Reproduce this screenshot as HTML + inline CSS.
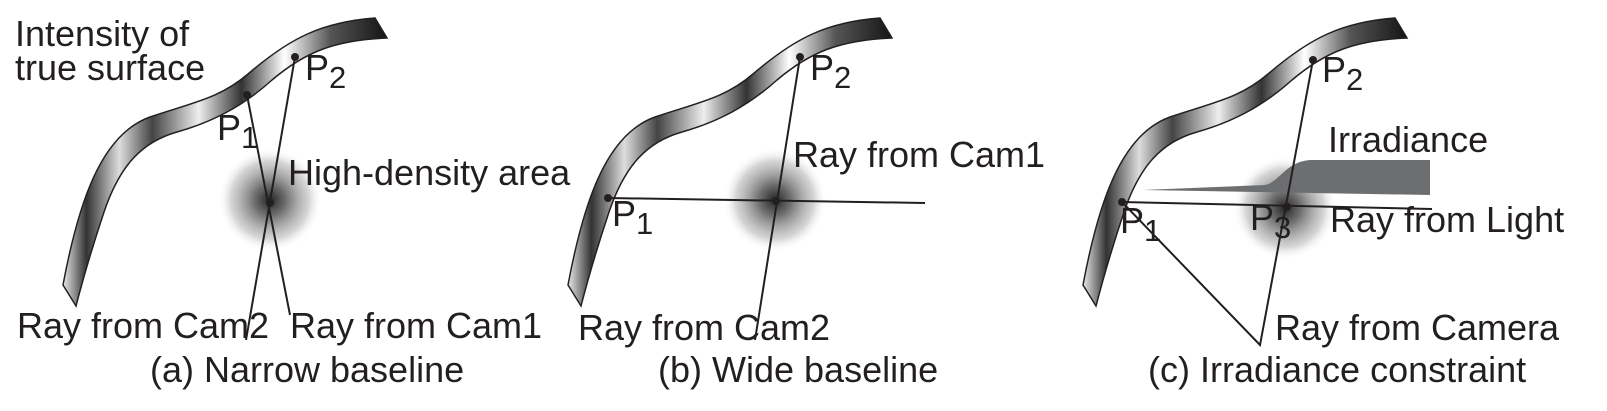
<!DOCTYPE html>
<html><head><meta charset="utf-8"><style>
html,body{margin:0;padding:0;background:#fff}
svg{display:block}
text{font-family:"Liberation Sans",Arial,sans-serif;fill:#231f20}
</style></head><body>
<svg width="1607" height="411" viewBox="0 0 1607 411" xmlns="http://www.w3.org/2000/svg">
<defs>
<linearGradient id="g" x1="60" y1="0" x2="390" y2="0" gradientUnits="userSpaceOnUse">
<stop offset="0" stop-color="#fff"/>
<stop offset="0.08" stop-color="#333"/>
<stop offset="0.18" stop-color="#ddd"/>
<stop offset="0.28" stop-color="#444"/>
<stop offset="0.42" stop-color="#eee"/>
<stop offset="0.55" stop-color="#333"/>
<stop offset="0.68" stop-color="#fff"/>
<stop offset="0.82" stop-color="#555"/>
<stop offset="1" stop-color="#111"/>
</linearGradient>
<radialGradient id="b"><stop offset="0" stop-color="#222"/><stop offset="0.3" stop-color="#555" stop-opacity=".85"/><stop offset="0.75" stop-color="#aaa" stop-opacity=".5"/><stop offset="1" stop-color="#fff" stop-opacity="0"/></radialGradient>
<path id="s" d="M63,285 C78,205 100,135 150,117 C195,102 220,98 248,74 C290,38 322,22 375,18 L387,38 C335,40 305,52 272,80 C242,107 212,122 177,132 C142,142 120,165 104,212 C94,242 84,275 76,306 Z" fill="url(#g)" stroke="#231f20" stroke-width="1.5"/>
</defs>
<g font-size="36">
<!-- (a) -->
<use href="#s"/>
<circle cx="270" cy="200" r="52" fill="url(#b)"/>
<line x1="247" y1="95" x2="290" y2="315" stroke="#231f20" stroke-width="2"/>
<line x1="295" y1="57" x2="246" y2="340" stroke="#231f20" stroke-width="2"/>
<circle cx="247" cy="95" r="4" fill="#231f20"/><circle cx="295" cy="57" r="4" fill="#231f20"/><circle cx="270" cy="203" r="4" fill="#231f20"/>
<text x="15" y="46">Intensity of</text>
<text x="15" y="80">true surface</text>
<text x="305" y="80">P<tspan font-size="31" dy="8">2</tspan></text>
<text x="217" y="140">P<tspan font-size="31" dy="8">1</tspan></text>
<text x="288" y="185">High-density area</text>
<text x="17" y="338">Ray from Cam2</text>
<text x="290" y="338">Ray from Cam1</text>
<text x="150" y="382">(a) Narrow baseline</text>
<!-- (b) -->
<g transform="translate(505,0)"><use href="#s"/></g>
<circle cx="775" cy="200" r="52" fill="url(#b)"/>
<line x1="608" y1="198" x2="925" y2="203" stroke="#231f20" stroke-width="2"/>
<line x1="800" y1="57" x2="755" y2="340" stroke="#231f20" stroke-width="2"/>
<circle cx="608" cy="198" r="4" fill="#231f20"/><circle cx="800" cy="57" r="4" fill="#231f20"/><circle cx="776" cy="201" r="4" fill="#231f20"/>
<text x="810" y="80">P<tspan font-size="31" dy="8">2</tspan></text>
<text x="612" y="226">P<tspan font-size="31" dy="8">1</tspan></text>
<text x="793" y="167">Ray from Cam1</text>
<text x="578" y="340">Ray from Cam2</text>
<text x="658" y="382">(b) Wide baseline</text>
<!-- (c) -->
<g transform="translate(1020,0)"><use href="#s"/></g>
<circle cx="1285" cy="208" r="52" fill="url(#b)"/>
<path d="M1142,190 L1265,185 C1280,182 1285,162 1310,160 L1430,160 L1430,195 Z" fill="#6d6e70"/>
<line x1="1122" y1="202" x2="1432" y2="209" stroke="#231f20" stroke-width="2"/>
<polyline points="1122,202 1260,345 1313,60" fill="none" stroke="#231f20" stroke-width="2"/>
<circle cx="1122" cy="202" r="4" fill="#231f20"/><circle cx="1313" cy="60" r="4" fill="#231f20"/><circle cx="1287" cy="207" r="4" fill="#231f20"/>
<text x="1322" y="82">P<tspan font-size="31" dy="8">2</tspan></text>
<text x="1120" y="233">P<tspan font-size="31" dy="8">1</tspan></text>
<text x="1250" y="230">P<tspan font-size="31" dy="8">3</tspan></text>
<text x="1328" y="152">Irradiance</text>
<text x="1330" y="232">Ray from Light</text>
<text x="1275" y="340">Ray from Camera</text>
<text x="1148" y="382">(c) Irradiance constraint</text>
</g>
</svg>
</body></html>
